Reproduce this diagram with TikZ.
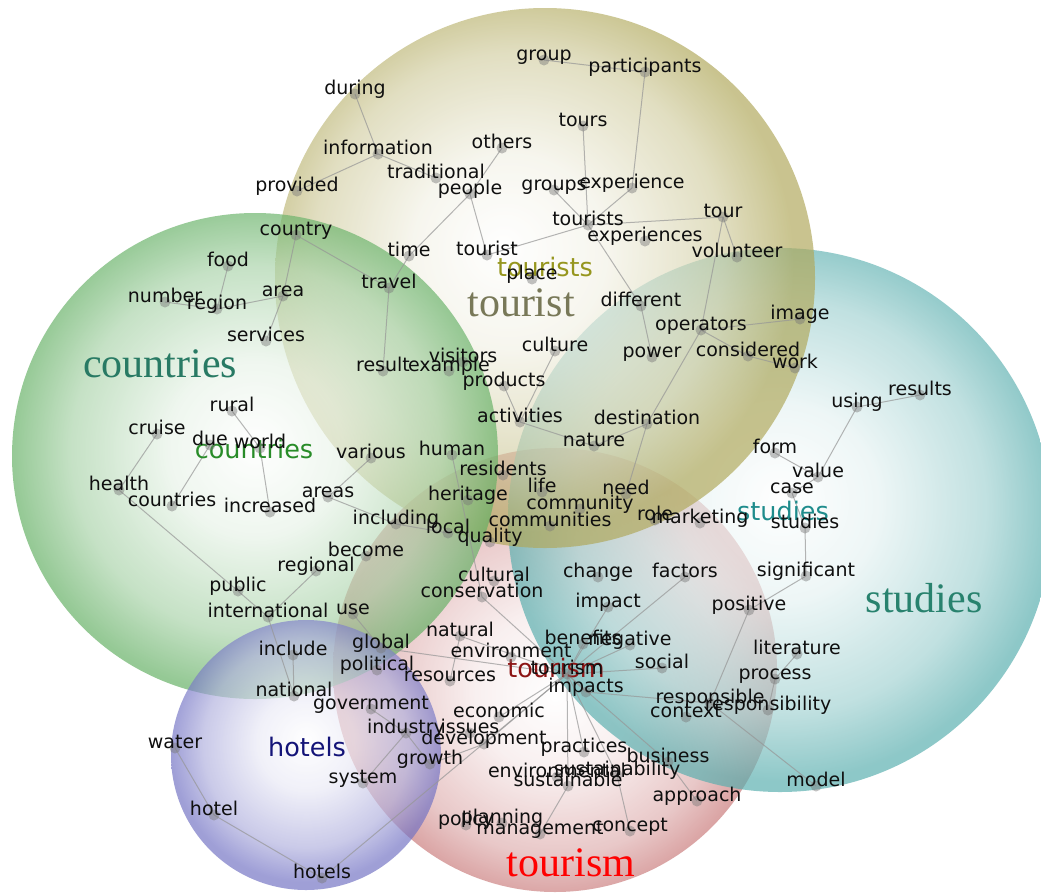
\documentclass[tikz,border=0pt]{standalone}
\usepackage{fontspec}
\setmainfont{DejaVu Sans}
\newfontfamily\bigserif{Liberation Serif}
\pgfdeclarelayer{bg}
\pgfdeclarelayer{links}
\pgfsetlayers{bg,links,main}
\definecolor{olC}{RGB}{176,168,90}
\definecolor{grC}{RGB}{100,176,100}
\definecolor{tlC}{RGB}{88,174,174}
\definecolor{rdC}{RGB}{196,108,108}
\definecolor{blC}{RGB}{114,114,196}
\colorlet{olA}{olC!15!white}\colorlet{olB}{olC!55!white}
\colorlet{grA}{grC!15!white}\colorlet{grB}{grC!55!white}
\colorlet{tlA}{tlC!15!white}\colorlet{tlB}{tlC!55!white}
\colorlet{rdA}{rdC!15!white}\colorlet{rdB}{rdC!55!white}
\colorlet{blA}{blC!15!white}\colorlet{blB}{blC!55!white}
\pgfdeclareradialshading{olShade}{\pgfpoint{-4bp}{3bp}}{color(0bp)=(white);color(9bp)=(olA);color(19bp)=(olB);color(25bp)=(olC);color(50bp)=(olC)}
\pgfdeclareradialshading{grShade}{\pgfpoint{0bp}{1bp}}{color(0bp)=(white);color(9bp)=(grA);color(19bp)=(grB);color(25bp)=(grC);color(50bp)=(grC)}
\pgfdeclareradialshading{tlShade}{\pgfpoint{0bp}{2bp}}{color(0bp)=(white);color(9bp)=(tlA);color(19bp)=(tlB);color(25bp)=(tlC);color(50bp)=(tlC)}
\pgfdeclareradialshading{rdShade}{\pgfpoint{0bp}{-3bp}}{color(0bp)=(white);color(9bp)=(rdA);color(19bp)=(rdB);color(25bp)=(rdC);color(50bp)=(rdC)}
\pgfdeclareradialshading{blShade}{\pgfpoint{0bp}{3bp}}{color(0bp)=(white);color(9bp)=(blA);color(19bp)=(blB);color(25bp)=(blC);color(50bp)=(blC)}
\definecolor{txt}{RGB}{15,15,15}
\definecolor{linkC}{RGB}{150,150,150}
\definecolor{dotC}{RGB}{120,120,120}
\definecolor{bigTourist}{RGB}{120,120,88}
\definecolor{bigCountries}{RGB}{40,122,100}
\definecolor{bigStudies}{RGB}{40,130,110}
\definecolor{bigTourism}{RGB}{255,0,0}
\definecolor{midTourists}{RGB}{150,150,30}
\definecolor{midCountries}{RGB}{40,140,40}
\definecolor{midStudies}{RGB}{30,140,140}
\definecolor{midTourism}{RGB}{140,20,20}
\definecolor{midHotels}{RGB}{20,20,120}
\newcommand\wordnode[4]{\node[dotn] (#1) at (#2,#3) {};\node[wlab] (#1-t) at (#2,#3) {#4};}
\begin{document}
\begin{tikzpicture}[x=1pt,y=-1pt,
 dotn/.style={circle,fill=dotC,fill opacity=0.45,inner sep=0pt,minimum size=11pt},
 wlab/.style={anchor=base,inner sep=0pt,text=txt,font=\fontsize{19}{22}\selectfont},
 lnk/.style={draw=linkC,line width=1pt,opacity=0.7},
 biglab/.style={anchor=base,inner sep=0pt,font=\bigserif\fontsize{42}{48}\selectfont},
 midlab/.style={anchor=base,inner sep=0pt,font=\fontsize{25.5}{30}\selectfont},
 blob/.style={opacity=0.68}]
\useasboundingbox (0,0) rectangle (1041,892);
\begin{pgfonlayer}{bg}
\fill[white] (0,0) rectangle (1041,892);
\shade[blob,shading=rdShade] (555,670) circle[radius=222pt];
\shade[blob,shading=tlShade] (780,520) circle[radius=272pt];
\shade[blob,shading=olShade] (545,278) circle[radius=270pt];
\shade[blob,shading=grShade] (255,456) circle[radius=243pt];
\shade[blob,shading=blShade] (306,755) circle[radius=135pt];
\end{pgfonlayer}
% big and medium labels
\node[biglab,text=bigTourist] (big-tourist) at (521,316) {tourist};
\node[biglab,text=bigCountries] (big-countries) at (160,377) {countries};
\node[biglab,text=bigStudies] (big-studies) at (924,612) {studies};
\node[biglab,text=bigTourism] (big-tourism) at (571,876) {tourism};
\node[midlab,text=midTourists] (mid-tourists) at (545,276) {tourists};
\node[midlab,text=midCountries] (mid-countries) at (254,458) {countries};
\node[midlab,text=midStudies] (mid-studies) at (783,520) {studies};
\node[midlab,text=midTourism] (mid-tourism) at (556,677) {tourism};
\node[midlab,text=midHotels] (mid-hotels) at (307,756) {hotels};
% words
\wordnode{group}{544}{60}{group}
\wordnode{participants}{645}{72}{participants}
\wordnode{tours}{583}{126}{tours}
\wordnode{experience}{632}{188}{experience}
\wordnode{groups}{554}{190}{groups}
\wordnode{touristsw}{588}{225}{tourists}
\wordnode{experiences}{645}{241}{experiences}
\wordnode{tour}{723}{217}{tour}
\wordnode{volunteer}{737}{257}{volunteer}
\wordnode{others}{502}{148}{others}
\wordnode{information}{378}{154}{information}
\wordnode{during}{355}{94}{during}
\wordnode{provided}{297}{191}{provided}
\wordnode{traditional}{436}{178}{traditional}
\wordnode{people}{470}{194}{people}
\wordnode{time}{409}{256}{time}
\wordnode{touristw}{487}{255}{tourist}
\wordnode{country}{296}{235}{country}
\wordnode{travel}{389}{288}{travel}
\wordnode{place}{532}{279}{place}
\wordnode{different}{641}{306}{different}
\wordnode{operators}{701}{330}{operators}
\wordnode{image}{800}{319}{image}
\wordnode{power}{652}{357}{power}
\wordnode{considered}{748}{356}{considered}
\wordnode{work}{795}{368}{work}
\wordnode{culture}{555}{351}{culture}
\wordnode{visitors}{463}{362}{visitors}
\wordnode{result}{383}{371}{result}
\wordnode{example}{449}{371}{example}
\wordnode{products}{504}{386}{products}
\wordnode{activities}{520}{422}{activities}
\wordnode{destination}{647}{424}{destination}
\wordnode{nature}{594}{446}{nature}
\wordnode{human}{452}{455}{human}
\wordnode{various}{371}{458}{various}
\wordnode{residents}{503}{475}{residents}
\wordnode{life}{542}{492}{life}
\wordnode{heritage}{468}{500}{heritage}
\wordnode{community}{580}{509}{community}
\wordnode{need}{626}{494}{need}
\wordnode{communities}{550}{526}{communities}
\wordnode{role}{655}{520}{role}
\wordnode{marketing}{700}{523}{marketing}
\wordnode{local}{448}{533}{local}
\wordnode{quality}{490}{542}{quality}
\wordnode{including}{396}{524}{including}
\wordnode{become}{366}{556}{become}
\wordnode{regional}{316}{571}{regional}
\wordnode{public}{238}{591}{public}
\wordnode{international}{268}{617}{international}
\wordnode{use}{353}{614}{use}
\wordnode{include}{293}{655}{include}
\wordnode{national}{294}{696}{national}
\wordnode{global}{381}{648}{global}
\wordnode{political}{377}{670}{political}
\wordnode{government}{371}{709}{government}
\wordnode{industry}{406}{733}{industry}
\wordnode{issues}{470}{733}{issues}
\wordnode{development}{484}{744}{development}
\wordnode{economic}{499}{717}{economic}
\wordnode{growth}{430}{764}{growth}
\wordnode{system}{363}{783}{system}
\wordnode{natural}{460}{636}{natural}
\wordnode{environment}{511}{657}{environment}
\wordnode{resources}{450}{681}{resources}
\wordnode{cultural}{494}{581}{cultural}
\wordnode{conservation}{482}{597}{conservation}
\wordnode{change}{598}{577}{change}
\wordnode{factors}{685}{577}{factors}
\wordnode{impact}{608}{607}{impact}
\wordnode{benefits}{583}{644}{benefits}
\wordnode{negative}{630}{645}{negative}
\wordnode{social}{662}{668}{social}
\wordnode{tourism}{567}{674}{tourism}
\wordnode{impacts}{586}{692}{impacts}
\wordnode{responsible}{710}{703}{responsible}
\wordnode{context}{686}{717}{context}
\wordnode{responsibility}{768}{710}{responsibility}
\wordnode{positive}{749}{610}{positive}
\wordnode{significant}{806}{576}{significant}
\wordnode{literature}{797}{654}{literature}
\wordnode{process}{775}{679}{process}
\wordnode{model}{816}{786}{model}
\wordnode{business}{668}{762}{business}
\wordnode{sustainability}{617}{775}{sustainability}
\wordnode{approach}{697}{801}{approach}
\wordnode{practices}{584}{752}{practices}
\wordnode{environmental}{557}{777}{environmental}
\wordnode{sustainable}{568}{786}{sustainable}
\wordnode{policy}{466}{825}{policy}
\wordnode{planning}{502}{823}{planning}
\wordnode{management}{540}{834}{management}
\wordnode{concept}{630}{831}{concept}
\wordnode{water}{175}{748}{water}
\wordnode{hotel}{214}{815}{hotel}
\wordnode{hotelsw}{322}{878}{hotels}
\wordnode{food}{228}{266}{food}
\wordnode{number}{165}{302}{number}
\wordnode{region}{217}{309}{region}
\wordnode{area}{283}{296}{area}
\wordnode{services}{266}{341}{services}
\wordnode{rural}{232}{411}{rural}
\wordnode{cruise}{157}{434}{cruise}
\wordnode{due}{210}{445}{due}
\wordnode{world}{260}{448}{world}
\wordnode{health}{119}{490}{health}
\wordnode{countriesw}{172}{506}{countries}
\wordnode{increased}{270}{512}{increased}
\wordnode{areas}{328}{497}{areas}
\wordnode{studiesw}{805}{528}{studies}
\wordnode{case}{792}{493}{case}
\wordnode{value}{818}{477}{value}
\wordnode{form}{775}{453}{form}
\wordnode{using}{857}{407}{using}
\wordnode{results}{920}{395}{results}
% links
\begin{pgfonlayer}{links}
\foreach \a/\b in {group/participants,participants/experience,tours/touristsw,groups/touristsw,
 experience/touristsw,touristsw/tour,touristsw/touristw,touristsw/different,tour/volunteer,
 tour/operators,operators/image,operators/considered,considered/work,operators/destination,
 different/power,destination/nature,destination/need,others/people,information/during,
 information/provided,information/traditional,people/time,time/travel,people/touristw,
 country/travel,country/area,travel/result,culture/activities,products/activities,
 activities/nature,various/areas,areas/including,including/local,human/conservation,
 food/region,number/region,region/area,area/services,rural/world,world/increased,
 countriesw/due,cruise/health,health/public,public/international,regional/international,
 international/national,include/national,use/global,global/tourism,government/industry,
 industry/system,industry/growth,growth/development,development/tourism,economic/tourism,
 natural/resources,natural/tourism,conservation/tourism,impact/tourism,factors/tourism,
 negative/tourism,benefits/tourism,social/tourism,impacts/tourism,responsible/impacts,
 practices/tourism,sustainable/tourism,sustainability/tourism,business/tourism,
 business/approach,sustainable/management,sustainability/concept,responsible/positive,
 positive/significant,significant/studiesw,studiesw/case,case/value,value/form,value/using,
 using/results,literature/process,process/responsibility,responsible/model,
 hotelsw/tourism,water/hotel,hotel/hotelsw}
 \draw[lnk] (\a.center) -- (\b.center);
\end{pgfonlayer}
\end{tikzpicture}
\end{document}
